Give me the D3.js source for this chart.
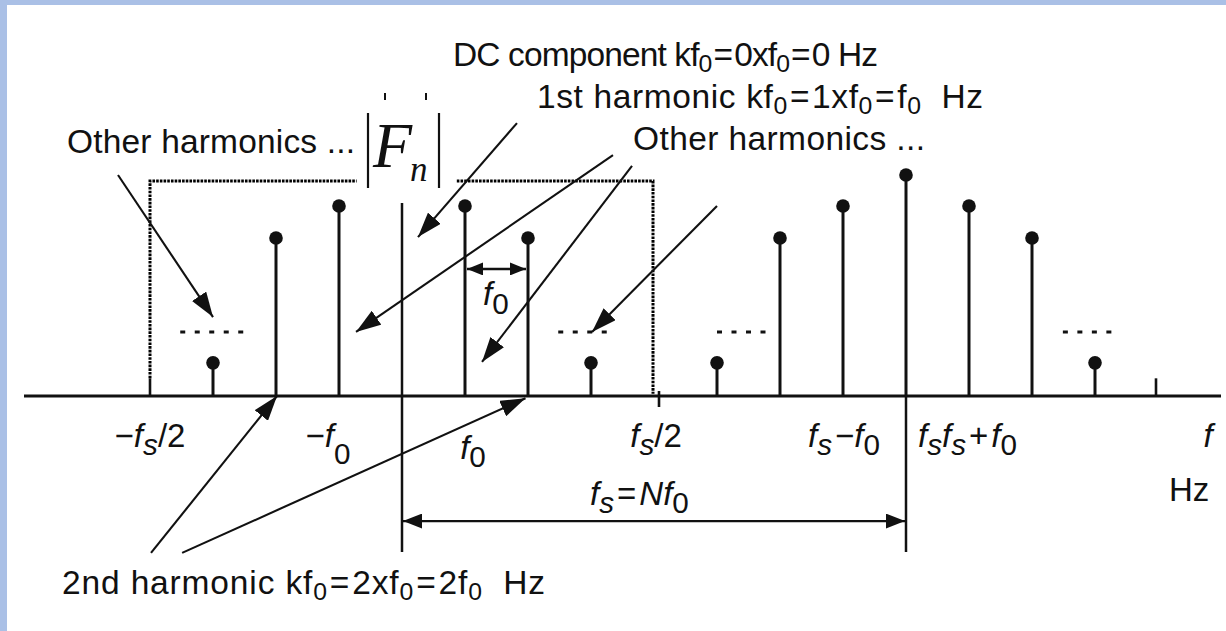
<!DOCTYPE html>
<html>
<head>
<meta charset="utf-8">
<script src="https://cdn.jsdelivr.net/npm/d3@7"></script>
<style>
  html, body { margin: 0; padding: 0; background: #fff; }
  svg { display: block; }
  text { white-space: pre; }
</style>
</head>
<body>
<svg id="chart" width="1226" height="631"></svg>
<script>
// Two-sided magnitude spectrum |Fn| of a sampled periodic signal, N = 8 (fs = N·f0).
// Frequencies are in multiples of f0.
const N = 8;
const harmonics  = [-3, -2, -1, 1, 2, 3, 5, 6, 7, 8, 9, 10, 11];
const magnitudes = [0.15, 0.715, 0.86, 0.86, 0.715, 0.15, 0.15, 0.715, 0.86, 1.0, 0.86, 0.715, 0.15];

// Folding frequencies -fs/2, fs/2 and the next one 3fs/2
const foldTicks = [-N / 2, N / 2, 3 * N / 2];

// Tick labels: text pieces, flags i = italic, s = subscript, S = low subscript, e = spaced
const tickLabels = [
  { at: -4, parts: [["−", ""], ["f", "i"], ["s", "is"], ["/2", ""]] },
  { at: -1, parts: [["−", ""], ["f", "i"], ["0", "S"]] },
  { at: 1,  parts: [["f", "i"], ["0", "s"]] },
  { at: 4,  parts: [["f", "i"], ["s", "is"], ["/2", ""]] },
  { at: 7,  parts: [["f", "i"], ["s", "is"], ["−", "e"], ["f", "i"], ["0", "s"]] },
  { at: 8,  parts: [["f", "i"], ["s", "is"], ["f", "i"], ["s", "is"], ["+", "e"], ["f", "ie"], ["0", "s"]] },
  { at: 13, parts: [["f", "i"]] }
];

// Callout texts
const calloutTexts = {
  dc:     [["DC component kf", ""], ["0", "s"], ["=", "e"], ["0xf", "e"], ["0", "s"], ["=", "e"], ["0 Hz", "e"]],
  first:  [["1st harmonic kf", ""], ["0", "s"], ["=", "e"], ["1xf", "e"], ["0", "s"], ["=", "e"], ["f", "e"], ["0", "s"], ["  Hz", ""]],
  otherR: [["Other harmonics ...", ""]],
  otherL: [["Other harmonics ...", ""]],
  second: [["2nd harmonic kf", ""], ["0", "s"], ["=", "e"], ["2xf", "e"], ["0", "s"], ["=", "e"], ["2f", "e"], ["0", "s"], ["  Hz", ""]]
};

const ink = "#111111";
const sans = "'Liberation Sans', Arial, Helvetica, sans-serif";
const serif = "'Liberation Serif', 'Times New Roman', serif";

const svg = d3.select("#chart");

// page frame
svg.append("rect").attr("width", 1226).attr("height", 631).attr("fill", "#aac0e6");
svg.append("rect").attr("x", 7).attr("y", 5).attr("width", 1219).attr("height", 626).attr("fill", "#ffffff");

const x = d3.scaleLinear().domain([-6, 13]).range([24, 1221]);
const y = d3.scaleLinear().domain([0, 1]).range([396, 175]);

// arrow heads
const defs = svg.append("defs");
function head(id, len, wid) {
  defs.append("marker")
    .attr("id", id)
    .attr("viewBox", `0 0 ${len} ${wid}`)
    .attr("markerUnits", "userSpaceOnUse")
    .attr("markerWidth", len).attr("markerHeight", wid)
    .attr("refX", len).attr("refY", wid / 2)
    .attr("orient", "auto-start-reverse")
    .append("path")
    .attr("d", `M0,0 L${len},${wid / 2} L0,${wid} Z`)
    .attr("fill", ink);
}
head("hBig", 25, 17);
head("hMid", 19, 15);
head("hSmall", 16, 13);

// rich text helper
function richText(g, px, py, parts, o) {
  const t = g.append("text")
    .attr("x", px).attr("y", py)
    .attr("font-family", o.family || sans)
    .attr("font-size", o.size)
    .attr("fill", ink);
  let shift = 0;
  parts.forEach(([str, flags]) => {
    const sub = flags.includes("s") || flags.includes("S");
    const drop = flags.includes("S") ? o.bigDrop : (sub ? o.drop : 0);
    const ts = t.append("tspan")
      .text(str)
      .attr("dy", drop - shift)
      .attr("font-style", flags.includes("i") ? "italic" : "normal")
      .attr("font-size", sub ? o.size * o.subScale : o.size);
    if (flags.includes("e")) ts.attr("dx", o.eqGap || 0);
    shift = drop;
  });
  if (o.anchor) t.attr("text-anchor", o.anchor);
  if (o.width) t.attr("textLength", o.width).attr("lengthAdjust", "spacing");
  return t;
}
function styled(sel, st) { Object.entries(st).forEach(([k, v]) => sel.attr(k, v)); return sel; }

const plot = svg.append("g");

// dotted box marking one period from -fs/2 to fs/2
const boxTop = 0.973, boxBottom = 0.08;
const dotted = { stroke: "#000", "stroke-width": 3, "stroke-dasharray": "2.6 1.1", fill: "none" };
styled(plot.append("path").attr("d", d3.line()([
  [x(-4), y(boxBottom)], [x(-4), y(boxTop)], [x(-0.72), y(boxTop)]
])), dotted);
styled(plot.append("path").attr("d", d3.line()([
  [x(0.87), y(boxTop)], [x(4) - 1, y(boxTop)], [x(4) - 1, y(0.01)]
])), dotted);

// frequency axis
plot.append("line")
  .attr("x1", x.range()[0]).attr("x2", x.range()[1])
  .attr("y1", y(0)).attr("y2", y(0))
  .attr("stroke", ink).attr("stroke-width", 3);

// folding-frequency ticks
plot.append("line").attr("x1", x(foldTicks[0])).attr("x2", x(foldTicks[0]))
  .attr("y1", y(0)).attr("y2", y(boxBottom)).attr("stroke", ink).attr("stroke-width", 2.6);
plot.append("line").attr("x1", x(foldTicks[1]) + 5).attr("x2", x(foldTicks[1]) + 5)
  .attr("y1", y(0) - 5).attr("y2", y(0) + 11).attr("stroke", ink).attr("stroke-width", 2.6);
plot.append("line").attr("x1", x(foldTicks[2]) - 2).attr("x2", x(foldTicks[2]) - 2)
  .attr("y1", y(0)).attr("y2", y(0.08)).attr("stroke", ink).attr("stroke-width", 2.6);

// vertical magnitude axis at 0 Hz and the fs marker
const lowEnd = -0.706;
plot.append("line").attr("x1", x(0)).attr("x2", x(0))
  .attr("y1", y(lowEnd)).attr("y2", y(0.873)).attr("stroke", ink).attr("stroke-width", 2.5);
plot.append("line").attr("x1", x(N)).attr("x2", x(N))
  .attr("y1", y(lowEnd)).attr("y2", y(0)).attr("stroke", ink).attr("stroke-width", 2.5);

// spectral lines
const stems = plot.selectAll("g.stem").data(harmonics.map((k, i) => ({ k, m: magnitudes[i] })))
  .join("g").attr("class", "stem");
stems.append("line")
  .attr("x1", d => x(d.k)).attr("x2", d => x(d.k))
  .attr("y1", y(0)).attr("y2", d => y(d.m))
  .attr("stroke", ink).attr("stroke-width", 3);
stems.append("circle")
  .attr("cx", d => x(d.k)).attr("cy", d => y(d.m)).attr("r", 6.8)
  .attr("fill", ink);

// "more harmonics" dashes
[[-3.52, 5], [2.48, 4], [5.0, 4], [10.49, 4]].forEach(([from, n]) => {
  const len = n * 5 + (n - 1) * 9.5;
  plot.append("line")
    .attr("x1", x(from)).attr("x2", x(from) + len)
    .attr("y1", y(0.29)).attr("y2", y(0.29))
    .attr("stroke", ink).attr("stroke-width", 3).attr("stroke-dasharray", "5 9.5");
});

// spacing f0 between adjacent lines
plot.append("line")
  .attr("x1", x(1) + 2).attr("x2", x(2) - 2)
  .attr("y1", y(0.575)).attr("y2", y(0.575))
  .attr("stroke", ink).attr("stroke-width", 2.4)
  .attr("marker-start", "url(#hSmall)").attr("marker-end", "url(#hSmall)");
richText(plot, x(1) + 18, y(0.41), [["f", "i"], ["0", "s"]],
  { size: 33, subScale: 0.9, drop: 9 });

// period fs = N f0
plot.append("line")
  .attr("x1", x(0) + 1).attr("x2", x(N) - 1)
  .attr("y1", y(-0.566)).attr("y2", y(-0.566))
  .attr("stroke", ink).attr("stroke-width", 2.4)
  .attr("marker-start", "url(#hMid)").attr("marker-end", "url(#hMid)");
richText(plot, 590, y(-0.494), [["f", "i"], ["s", "is"], ["=", "e"], ["Nf", "ie"], ["0", "s"]],
  { size: 33, subScale: 0.9, drop: 8, eqGap: 3 });

// tick labels
const labelNudge = { "-4": [0, 0], "-1": [-11, 0], "1": [8, 12], "4": [2, 0], "7": [1, 0], "8": [12, 0], "13": [-13, 0] };
tickLabels.forEach(l => {
  const [dx, dy] = labelNudge[String(l.at)];
  const anchor = l.at === 8 ? "start" : "middle";
  richText(plot, x(l.at) + dx, y(0) + 51 + dy, l.parts,
    { size: 33, subScale: 0.9, drop: 8, bigDrop: 17, anchor, eqGap: 3 });
});
richText(plot, 1169, 501, [["Hz", ""]], { size: 33, subScale: 1, drop: 0 });

// |Fn| axis title
const title = svg.append("g");
title.append("line").attr("x1", 368).attr("x2", 368).attr("y1", 113).attr("y2", 188)
  .attr("stroke", ink).attr("stroke-width", 2.2);
title.append("line").attr("x1", 439).attr("x2", 439).attr("y1", 113).attr("y2", 188)
  .attr("stroke", ink).attr("stroke-width", 2.2);
title.append("text").attr("x", 373).attr("y", 167).attr("font-family", serif)
  .attr("font-style", "italic").attr("font-size", 64).attr("fill", ink).text("F");
title.append("text").attr("x", 410).attr("y", 181).attr("font-family", serif)
  .attr("font-style", "italic").attr("font-size", 35).attr("fill", ink).text("n");
[385, 426].forEach(px => title.append("line").attr("x1", px).attr("x2", px)
  .attr("y1", 93).attr("y2", 100).attr("stroke", ink).attr("stroke-width", 2));

// callouts: text and pointer arrows (ends in harmonic / magnitude units)
const notes = svg.append("g");
const topFont = { size: 33.5, subScale: 0.74, drop: 6, eqGap: 2 };
richText(notes, 453, 66, calloutTexts.dc, { ...topFont, width: 425 });
richText(notes, 537, 108, calloutTexts.first, { ...topFont, width: 446 });
richText(notes, 633, 150, calloutTexts.otherR, { ...topFont, width: 292 });
richText(notes, 67, 153, calloutTexts.otherL, { ...topFont, width: 288 });
richText(notes, 62, 594, calloutTexts.second, { ...topFont, width: 483 });

const pointers = [
  [[-4.508, 1.0], [-3.0, 0.357]],
  [[1.825, 1.235], [0.254, 0.719]],
  [[3.349, 1.09], [-0.73, 0.29]],
  [[3.651, 1.041], [1.27, 0.154]],
  [[5.0, 0.86], [3.016, 0.29]],
  [[-3.984, -0.71], [-1.984, 0.0]],
  [[-3.49, -0.71], [1.96, -0.01]]
];
pointers.forEach(([a, b]) => {
  notes.append("line")
    .attr("x1", x(a[0])).attr("y1", y(a[1]))
    .attr("x2", x(b[0])).attr("y2", y(b[1]))
    .attr("stroke", ink).attr("stroke-width", 2.1)
    .attr("marker-end", "url(#hBig)");
});
</script>
</body>
</html>
